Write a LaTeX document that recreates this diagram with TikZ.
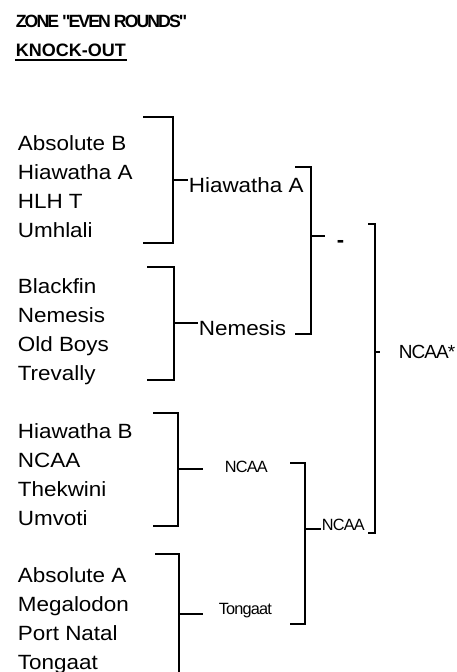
\documentclass[tikz,border=0pt]{standalone}
\usepackage{fontspec}
\setmainfont{Liberation Sans}
\newfontfamily\teamfont[FakeStretch=1.09]{Liberation Sans}
\newfontfamily\smallfont[LetterSpace=-5]{Liberation Sans}
\newfontfamily\titlefont[LetterSpace=-11]{Liberation Sans}
\begin{document}
\begin{tikzpicture}[x=1pt,y=-1pt,
  line width=1.7pt, line join=miter,
  team/.style={anchor=base west, inner sep=0pt, font=\teamfont\fontsize{20.6}{24}\selectfont},
  winner/.style={anchor=base west, inner sep=0pt, font=\smallfont\fontsize{16.3}{20}\selectfont},
  title/.style={anchor=base west, inner sep=0pt, font=\titlefont\bfseries\fontsize{17.7}{20}\selectfont}]
\useasboundingbox (0,0) rectangle (457,672);

% titles
\node[title] (zone) at (15,27) {ZONE "EVEN ROUNDS"};
\node[anchor=base west, inner sep=0pt, font=\bfseries\fontsize{18}{20}\selectfont] (ko) at (15,56) {KNOCK-OUT};
\draw[line width=2pt] ([yshift=-4pt]ko.base west) -- ([yshift=-4pt]ko.base east);

% teams
\foreach \n/\t/\y in {a1/Absolute B/150, a2/Hiawatha A/179, a3/HLH T/208, a4/Umhlali/237,
  b1/Blackfin/293.5, b2/Nemesis/322.5, b3/Old Boys/351.5, b4/Trevally/380.5,
  c1/Hiawatha B/438, c2/NCAA/467, c3/Thekwini/496, c4/Umvoti/525,
  d1/Absolute A/582, d2/Megalodon/611, d3/Port Natal/640, d4/Tongaat/669}
  \node[team] (\n) at (17,\y) {\t};

% round 1 brackets
\coordinate (p1t) at (143,117); \coordinate (p1tr) at (173,117);
\coordinate (p1b) at (143,243); \coordinate (p1br) at (173,243);
\coordinate (p1m) at (173,180);
\draw (p1t) -- (p1tr) -- (p1br) -- (p1b);
\node[team] (wA) at (188,192) {Hiawatha A};
\draw (p1m) -- (wA.west |- p1m);

\coordinate (p2t) at (147,267); \coordinate (p2tr) at (174,267);
\coordinate (p2b) at (147,380); \coordinate (p2br) at (174,380);
\coordinate (p2m) at (174,323);
\draw (p2t) -- (p2tr) -- (p2br) -- (p2b);
\node[team] (wB) at (198,335) {Nemesis};
\draw (p2m) -- (wB.west |- p2m);

\coordinate (p3t) at (153,413); \coordinate (p3tr) at (178,413);
\coordinate (p3b) at (153,526); \coordinate (p3br) at (178,526);
\coordinate (p3m) at (178,469); \coordinate (p3e) at (203,469);
\draw (p3t) -- (p3tr) -- (p3br) -- (p3b);
\draw (p3m) -- (p3e);
\node[winner] (wC) at (224,472) {NCAA};

\coordinate (p4t) at (155,554); \coordinate (p4tr) at (179,554);
\coordinate (p4br) at (179,672);
\coordinate (p4m) at (179,614); \coordinate (p4e) at (203,614);
\draw (p4t) -- (p4tr) -- (p4br);
\draw (p4m) -- (p4e);
\node[winner] (wD) at (218,614) {Tongaat};

% semi-finals
\coordinate (s1t) at (295,167); \coordinate (s1tr) at (311,167);
\coordinate (s1b) at (295,334); \coordinate (s1br) at (311,334);
\coordinate (s1m) at (311,236); \coordinate (s1e) at (325,236);
\draw (s1t) -- (s1tr) -- (s1br) -- (s1b);
\draw (s1m) -- (s1e);
\node[anchor=base west, inner sep=0pt, font=\bfseries\fontsize{22}{24}\selectfont] (wS1) at (336,247) {-};

\coordinate (s2t) at (290,463); \coordinate (s2tr) at (305,463);
\coordinate (s2b) at (290,624); \coordinate (s2br) at (305,624);
\coordinate (s2m) at (305,529);
\draw (s2t) -- (s2tr) -- (s2br) -- (s2b);
\node[winner] (wS2) at (321,530) {NCAA};
\draw (s2m) -- (wS2.west |- s2m);

% final
\coordinate (ft) at (368,224); \coordinate (ftr) at (375,224);
\coordinate (fb) at (368,533); \coordinate (fbr) at (375,533);
\coordinate (fm) at (375,352); \coordinate (fe) at (380,352);
\draw (ft) -- (ftr) -- (fbr) -- (fb);
\draw (fm) -- (fe);
\node[anchor=base west, inner sep=0pt, font=\smallfont\fontsize{19}{22}\selectfont] (champ) at (398,358) {NCAA*};
\end{tikzpicture}
\end{document}
